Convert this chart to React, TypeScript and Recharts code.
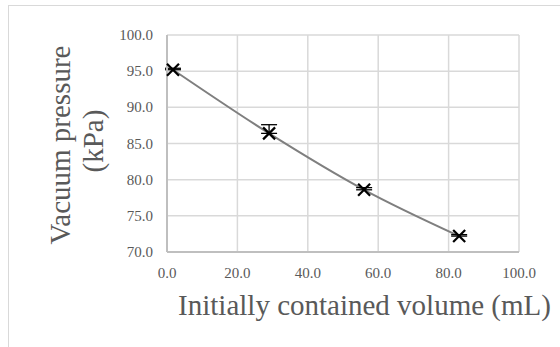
import React from 'react';
import {
  ComposedChart,
  Line,
  Scatter,
  ErrorBar,
  XAxis,
  YAxis,
  CartesianGrid,
} from 'recharts';

const volumes = [1.7, 29.0, 56.0, 83.0];
const pressures = [95.2, 86.4, 78.6, 72.2];
const errLow = [0, 0, 0, 0];
const errHigh = [0.2, 1.2, 0.3, 0.2];

const xTicks = [0, 20, 40, 60, 80, 100];
const yTicks = [70, 75, 80, 85, 90, 95, 100];

const data = volumes.map((v, i) => ({
  volume: v,
  pressure: pressures[i],
  err: [errLow[i], errHigh[i]],
}));

const FONT = 'Liberation Serif, Times New Roman, serif';
const TEXT = '#595959';

const CrossMarker = (props: any) => {
  const { cx, cy } = props;
  if (cx == null || cy == null) return null;
  const s = 6;
  return (
    <g stroke="#000" strokeWidth={2.2}>
      <line x1={cx - s} y1={cy - s} x2={cx + s} y2={cy + s} />
      <line x1={cx - s} y1={cy + s} x2={cx + s} y2={cy - s} />
    </g>
  );
};

const XTick = (props: any) => {
  const { x, y, payload } = props;
  return (
    <text x={x} y={y + 11} textAnchor="middle" fontFamily={FONT} fontSize={15} fill={TEXT}>
      {Number(payload.value).toFixed(1)}
    </text>
  );
};

const YTick = (props: any) => {
  const { x, y, payload } = props;
  return (
    <text x={x} y={y + 5} textAnchor="end" fontFamily={FONT} fontSize={15} fill={TEXT}>
      {Number(payload.value).toFixed(1)}
    </text>
  );
};

export default function App() {
  return (
    <div style={{ position: 'absolute', left: 0, top: 0, width: 560, height: 347, overflow: 'hidden', background: '#fff' }}>
      <div
        style={{
          position: 'absolute',
          left: 8,
          top: 5,
          width: 600,
          height: 400,
          borderLeft: '1.5px solid #d9d9d9',
          borderTop: '1.5px solid #d9d9d9',
        }}
      />
      <ComposedChart
        width={560}
        height={347}
        data={data}
        margin={{ top: 35, right: 41, left: 0, bottom: 65 }}
        style={{ position: 'absolute', left: 0, top: 0 }}
      >
        <CartesianGrid stroke="#d9d9d9" strokeWidth={1.5} />
        <XAxis
          type="number"
          dataKey="volume"
          domain={[0, 100]}
          ticks={xTicks}
          height={30}
          tickLine={false}
          tickSize={6}
          tickMargin={9}
          axisLine={{ stroke: '#bfbfbf', strokeWidth: 2 }}
          tick={XTick}
          interval={0}
        />
        <YAxis
          type="number"
          dataKey="pressure"
          domain={[70, 100]}
          ticks={yTicks}
          width={167}
          tickLine={false}
          tickSize={6}
          tickMargin={8}
          axisLine={{ stroke: '#bfbfbf', strokeWidth: 2 }}
          tick={YTick}
          interval={0}
        />
        <Line
          type="monotone"
          dataKey="pressure"
          stroke="#7f7f7f"
          strokeWidth={2}
          dot={false}
          activeDot={false}
          isAnimationActive={false}
        />
        <Scatter dataKey="pressure" shape={CrossMarker} isAnimationActive={false}>
          <ErrorBar dataKey="err" direction="y" width={8} stroke="#000" strokeWidth={1.3} isAnimationActive={false} />
        </Scatter>
      </ComposedChart>
      <svg width={560} height={347} style={{ position: 'absolute', left: 0, top: 0, pointerEvents: 'none' }}>
        <text
          x={70}
          y={145}
          transform="rotate(-90 70 145)"
          textAnchor="middle"
          fontFamily={FONT}
          fontSize={29}
          fill={TEXT}
        >
          Vacuum pressure
        </text>
        <text
          x={103}
          y={141}
          transform="rotate(-90 103 141)"
          textAnchor="middle"
          fontFamily={FONT}
          fontSize={29}
          fill={TEXT}
        >
          (kPa)
        </text>
        <text x={364.5} y={315} textAnchor="middle" fontFamily={FONT} fontSize={29} fill={TEXT}>
          Initially contained volume (mL)
        </text>
      </svg>
    </div>
  );
}
